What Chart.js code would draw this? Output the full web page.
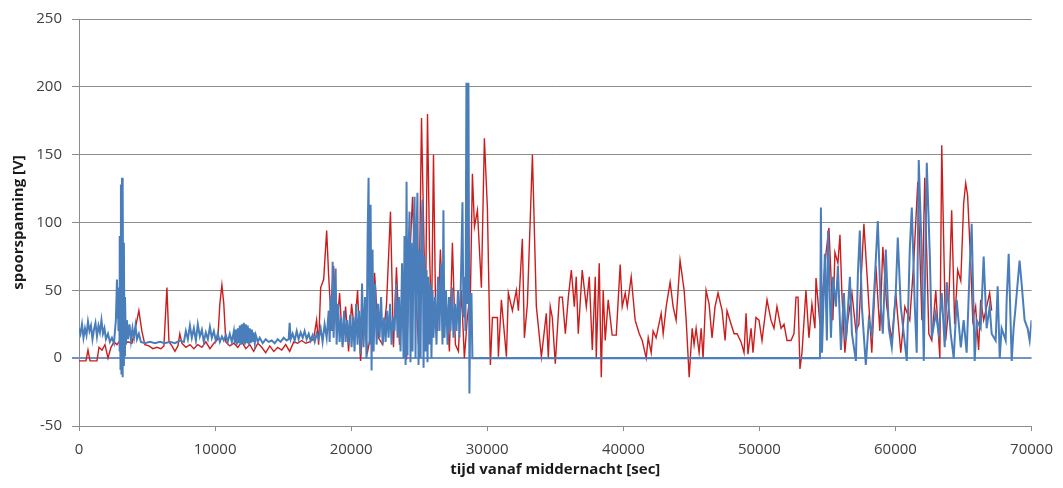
<!DOCTYPE html>
<html>
<head>
<meta charset="utf-8">
<title>spoorspanning</title>
<script src="https://cdn.jsdelivr.net/npm/chart.js@4.4.1/dist/chart.umd.min.js"></script>
<style>
  html, body { margin: 0; padding: 0; background: #fff; }
  #wrap { width: 1063px; height: 488px; position: relative; }
</style>
</head>
<body>
<div id="wrap"><canvas id="chart"></canvas></div>
<script>
// ============================================
// DATA
// ============================================

// x axis: seconds since midnight
const xTicks = [0, 10000, 20000, 30000, 40000, 50000, 60000, 70000];
// y axis: track voltage [V]
const yTicks = [-50, 0, 50, 100, 150, 200, 250];

// red series
const redTime = [
  0, 510, 660, 810, 1320, 1470, 1690, 1910, 2130, 2350, 2570, 2790, 3080, 3300, 3600, 3890,
  4180, 4400, 4620, 4840, 5140, 5430, 5720, 6020, 6240, 6460, 6610, 6830, 7050, 7270, 7410,
  7560, 7850, 8150, 8440, 8730, 9030, 9320, 9620, 9910, 10200, 10350, 10500, 10640, 10790,
  11080, 11380, 11670, 11960, 12260, 12550, 12840, 13140, 13430, 13720, 14020, 14310, 14600,
  14900, 15190, 15480, 15780, 16070, 16360, 16660, 16950, 17240, 17460, 17610, 17760, 17980,
  18200, 18350, 18490, 18710, 18930, 19150, 19370, 19590, 19810, 20030, 20250, 20470, 20690,
  20910, 21210, 21500, 21720, 22010, 22310, 22600, 22890, 23110, 23330, 23550, 23850, 24070,
  24290, 24510, 24730, 24950, 25170, 25320, 25460, 25610, 25760, 25900, 26050, 26200, 26340,
  26560, 26780, 27000, 27220, 27440, 27660, 27880, 28100, 28320, 28540, 28770, 28910, 29060,
  29280, 29570, 29790, 30010, 30230, 30380, 30750, 30820, 31040, 31410, 31550, 31850, 32140,
  32290, 32580, 32730, 32950, 33320, 33610, 33980, 34340, 34490, 34630, 34780, 35000, 35300,
  35520, 35740, 35960, 36180, 36400, 36540, 36690, 36980, 37280, 37500, 37720, 37940, 38010,
  38230, 38380, 38520, 38670, 38890, 39180, 39480, 39770, 39920, 40140, 40290, 40580, 40870,
  41170, 41390, 41680, 41830, 42050, 42190, 42410, 42780, 42930, 43150, 43440, 43660, 43880,
  44170, 44470, 44620, 44840, 45060, 45200, 45350, 45570, 45720, 45860, 46080, 46300, 46520,
  46740, 46960, 47260, 47480, 47620, 47920, 48140, 48360, 48650, 48870, 49020, 49160, 49390,
  49530, 49750, 49970, 50190, 50560, 50850, 51070, 51290, 51590, 51810, 52030, 52320, 52540,
  52690, 52840, 52980, 53130, 53420, 53640, 53860, 54080, 54160, 54450, 54890, 55110, 55400,
  55550, 55770, 55920, 56060, 56280, 56500, 56800, 57090, 57310, 57680, 57900, 58260, 58560,
  58850, 59070, 59360, 59730, 60020, 60390, 60690, 61050, 61350, 61640, 61940, 62150, 62450,
  62670, 62960, 63260, 63400, 63690, 63910, 64130, 64350, 64570, 64800, 65010, 65160, 65300,
  65530, 65680, 65890, 66110, 66260, 66480, 66700, 66920, 67070
];
const redVolt = [
  -2, -2, 6, -2, -2, 8, 6, 10, 0, 8, 12, 10, 14, 10, 12, 11,
  24, 35, 20, 10, 9, 7, 8, 7, 9, 52, 12, 9, 5, 9, 18,
  11, 8, 10, 7, 10, 8, 12, 7, 11, 14, 40, 54, 40, 12,
  9, 11, 8, 12, 7, 10, 5, 11, 8, 4, 9, 5, 8,
  6, 10, 5, 12, 11, 13, 11, 12, 14, 28, 10, 52, 58,
  94, 60, 35, 68, 20, 48, 10, 38, 5, 40, 20, 50, -2,
  30, 5, 20, 63, 15, 10, 40, 108, 8, 67, 10, 45, -1,
  70, 119, 50, 10, 177, 100, 30, 180, 80, 20, 150, 40, 20,
  80, 15, 40, 5, 85, 10, 5, 50, 0, 30, 50, 136, 97,
  109, 52, 162, 111, -5, 30, 30, 1, 43, 1, 48, 35, 50,
  35, 88, 15, 40, 150, 38, 1, 33, 0, 38, 30, -4, 45,
  45, 18, 45, 65, 38, 60, 18, 65, 38, 60, 6, 60, 0,
  70, -14, 50, 13, 43, 17, 17, 69, 38, 48, 38, 60, 28,
  18, 13, 0, 15, 4, 20, 15, 33, 18, 38, 56, 38, 28,
  72, 50, 28, -14, 22, 10, 22, 4, 22, 0, 50, 40, 15,
  38, 48, 35, 13, 35, 25, 18, 18, 12, 4, 33, 3, 22,
  4, 30, 28, 13, 43, 28, 22, 38, 22, 25, 13, 13, 18,
  45, 45, -8, 4, 50, 15, 40, 22, 59, 25, 77, 96, 28,
  78, 70, 91, 48, 4, 28, 48, 20, 25, 99, 63, 4, 68,
  20, 82, 38, 13, 48, 4, 38, 28, 72, 130, 28, 133, 18,
  13, 50, 0, 157, 13, 38, 109, 25, 65, 57, 114, 129, 120,
  70, 28, 38, 6, 43, 28, 38, 48, 35
];

// blue series
const blueTime = [
  0, 110, 220, 330, 440, 550, 660, 770, 880, 990, 1100, 1210, 1320, 1430, 1540, 1650,
  1760, 1870, 1980, 2130, 2270, 2420, 2570, 2710, 2790, 2820, 2860, 2900, 2940, 2970,
  3010, 3050, 3080, 3120, 3160, 3190, 3230, 3270, 3300, 3340, 3380, 3450, 3520, 3600,
  3710, 3820, 3930, 4040, 4150, 4260, 4400, 4550, 4840, 5210, 5580, 5940, 6310, 6680,
  7050, 7410, 7710, 7850, 8000, 8150, 8290, 8440, 8590, 8730, 8880, 9030, 9170, 9320,
  9470, 9620, 9760, 9910, 10050, 10200, 10350, 10500, 10640, 10790, 10930, 11080, 11230,
  11380, 11450, 11520, 11600, 11670, 11740, 11820, 11890, 11960, 12030, 12110, 12180,
  12260, 12330, 12400, 12480, 12550, 12620, 12700, 12770, 12840, 12920, 12990, 13140,
  13280, 13500, 13720, 13940, 14160, 14380, 14600, 14820, 15040, 15260, 15410, 15480,
  15560, 15700, 15850, 16000, 16140, 16290, 16440, 16580, 16730, 16880, 17020, 17170,
  17320, 17460, 17610, 17760, 17900, 18050, 18200, 18350, 18420, 18490, 18570, 18640,
  18710, 18860, 18930, 19040, 19150, 19260, 19370, 19480, 19590, 19700, 19810, 19920,
  20030, 20140, 20250, 20360, 20470, 20580, 20690, 20800, 20910, 21020, 21130, 21210,
  21280, 21350, 21430, 21500, 21570, 21650, 21760, 21870, 21980, 22090, 22200, 22310,
  22420, 22530, 22640, 22750, 22860, 22970, 23080, 23190, 23300, 23410, 23520, 23630,
  23740, 23850, 23920, 24000, 24070, 24140, 24210, 24290, 24360, 24430, 24510, 24580,
  24660, 24730, 24800, 24870, 24950, 25020, 25100, 25170, 25240, 25320, 25390, 25460,
  25540, 25610, 25680, 25760, 25830, 25900, 25980, 26050, 26160, 26270, 26380, 26490,
  26600, 26710, 26780, 26860, 26970, 27080, 27190, 27300, 27410, 27520, 27630, 27740,
  27850, 27960, 28070, 28180, 28250, 28320, 28400, 28470, 28540, 28620, 28690, 28760,
  28840, 28910, 54450,
  54520, 54600, 54810, 54960, 55040, 55260, 55400, 55620, 55770, 55990, 56210, 56360,
  56650, 56800, 57090, 57240, 57380, 57530, 57820, 58040, 58260, 58480, 58700, 58920,
  59070, 59290, 59510, 59730, 60020, 60170, 60390, 60610, 60830, 61050, 61200, 61420,
  61560, 61710, 61930, 62080, 62300, 62520, 62670, 62960, 63180, 63400, 63620, 63770,
  64060, 64280, 64500, 64800, 65010, 65230, 65460, 65600, 65820, 65970, 66260, 66480,
  66700, 66920, 67070, 67360, 67510, 67660, 67800, 68100, 68170, 68320, 68540, 68680,
  68830, 69120, 69270, 69490, 69710, 69860, 70000
];
const blueVolt = [
  22, 18, 25, 15, 22, 17, 27, 20, 24, 14, 21, 26, 16, 24, 19, 28,
  18, 22, 14, 18, 12, 15, 11, 28, 58, 30, 52, 20, 45, 5,
  90, -8, 128, -12, 133, -14, 122, -5, 85, 2, 45, 10, 28, 14,
  25, 13, 22, 15, 24, 14, 18, 12, 11, 12, 11, 12, 11, 12,
  11, 13, 12, 20, 14, 24, 15, 22, 13, 25, 16, 21, 12, 19,
  14, 23, 15, 20, 13, 18, 12, 16, 13, 17, 12, 18, 12,
  20, 11, 21, 10, 22, 11, 24, 10, 25, 11, 26, 10,
  25, 11, 24, 10, 22, 11, 21, 12, 19, 11, 17, 12,
  15, 11, 14, 12, 13, 11, 14, 12, 15, 13, 14, 26,
  14, 18, 13, 20, 14, 19, 15, 20, 14, 18, 13, 17,
  12, 18, 14, 22, 12, 25, 15, 35, 12, 45, 20, 71,
  15, 66, 10, 40, 12, 30, 8, 35, 12, 28, 10, 32,
  8, 30, 5, 40, 10, 35, 3, 55, 8, 45, 0, 90,
  133, 10, 113, -9, 80, 5, 55, 10, 40, 15, 45, 10,
  30, 12, 35, 15, 40, 10, 30, 20, 55, 15, 45, 5,
  70, 0, 90, -5, 130, 2, 75, 108, -3, 85, 5, 80,
  119, 0, 90, 122, -5, 80, 0, 95, 117, -7, 75, 5,
  65, -3, 60, 10, 55, 0, 50, 15, 45, 10, 60, 20,
  70, 10, 109, 15, 50, 10, 45, 20, 52, 15, 40, 20,
  50, 15, 60, 115, 30, 60, 20, 203, 40, 203, -26, 40,
  48, 0, 0,
  111, 4, 77, 13, 94, 15, 60, 38, 68, 6, 48, 13,
  60, 18, -2, 63, 94, 38, -5, 28, 18, 58, 101, 38,
  18, 80, 22, 8, 48, 89, 38, 18, -2, 80, 111, 38,
  4, 146, 77, -2, 144, 77, 15, 33, 18, 48, 8, 56,
  18, 0, 43, 8, 28, 4, 68, 99, -2, 28, 22, 75,
  22, 38, 18, 13, 53, 0, 22, 13, 43, 77, -2, 22,
  38, 72, 55, 28, 22, 13, 28
];

// ============================================
// BUILD + RENDER
// ============================================

const GRID_GRAY = '#8c8c8c';
const ZERO_BLUE = '#6f93c3';
const TEXT_GRAY = '#404040';

function toPoints(times, volts) {
  return times.map((t, i) => ({ x: t, y: volts[i] }));
}

const config = {
  type: 'line',
  data: {
    datasets: [
      {
        label: 'blauw',
        data: toPoints(blueTime, blueVolt),
        borderColor: '#4a7ebb',
        borderWidth: 2,
        pointRadius: 0,
        tension: 0,
        order: 0
      },
      {
        label: 'rood',
        data: toPoints(redTime, redVolt),
        borderColor: '#cc1d1d',
        borderWidth: 1.4,
        pointRadius: 0,
        tension: 0,
        order: 1
      }
    ]
  },
  options: {
    responsive: false,
    animation: false,
    layout: { padding: { top: 19, right: 30, bottom: 0, left: 0 } },
    plugins: {
      legend: { display: false },
      tooltip: { enabled: false }
    },
    scales: {
      x: {
        type: 'linear',
        min: xTicks[0],
        max: xTicks[xTicks.length - 1],
        afterBuildTicks: (scale) => { scale.ticks = xTicks.map(v => ({ value: v })); },
        afterFit: (scale) => { scale.height = 62; },
        border: { display: true, color: GRID_GRAY, width: 1 },
        grid: { drawOnChartArea: false, drawTicks: true, tickLength: 5, color: GRID_GRAY },
        ticks: {
          padding: 10,
          color: TEXT_GRAY,
          font: { family: 'Open Sans', size: 15 },
          maxRotation: 0,
          callback: (v) => String(v)
        },
        title: {
          display: true,
          text: 'tijd vanaf middernacht [sec]',
          color: '#1a1a1a',
          font: { family: 'Open Sans', size: 15, weight: 'bold' },
          padding: { top: 0, bottom: 9 }
        }
      },
      y: {
        min: yTicks[0],
        max: yTicks[yTicks.length - 1],
        afterBuildTicks: (scale) => { scale.ticks = yTicks.map(v => ({ value: v })); },
        afterFit: (scale) => { scale.width = 79; },
        border: { display: true, color: GRID_GRAY, width: 1 },
        grid: {
          drawTicks: true,
          tickLength: 7,
          color: (ctx) => (ctx.tick && ctx.tick.value === 0 ? ZERO_BLUE : GRID_GRAY),
          lineWidth: (ctx) => (ctx.tick && ctx.tick.value === 0 ? 2 : 1)
        },
        ticks: {
          padding: 10,
          color: TEXT_GRAY,
          font: { family: 'Open Sans', size: 15 },
          callback: (v) => String(v)
        },
        title: {
          display: true,
          text: 'spoorspanning [V]',
          color: '#1a1a1a',
          font: { family: 'Open Sans', size: 15, weight: 'bold' },
          padding: { top: 10, bottom: 0 }
        }
      }
    }
  }
};

const canvas = document.getElementById('chart');
canvas.width = 1063;
canvas.height = 488;
const chart = new Chart(canvas, config);
window.currentChart = chart;
</script>
</body>
</html>
